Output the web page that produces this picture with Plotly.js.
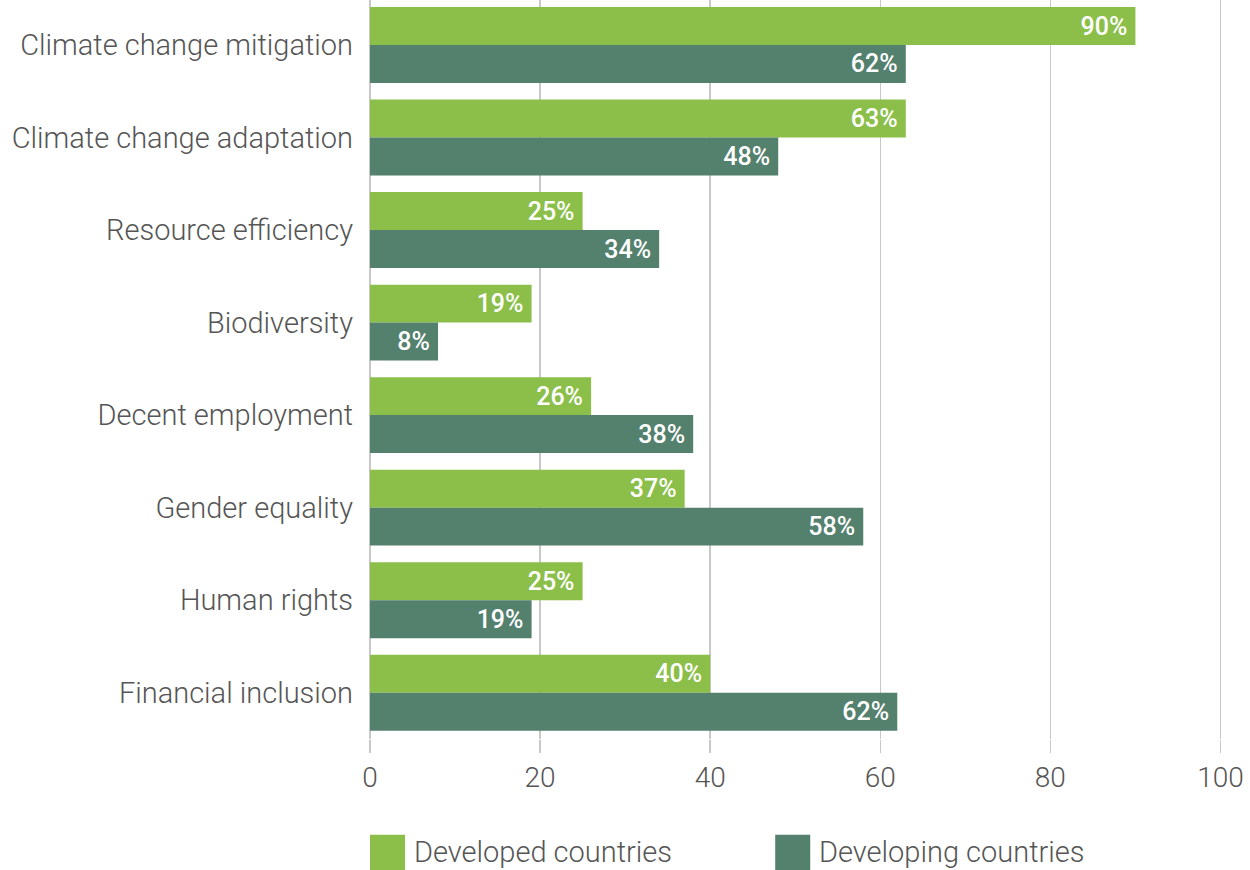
<!DOCTYPE html>
<html>
<head>
<meta charset="utf-8">
<script src="https://cdn.plot.ly/plotly-3.0.1.min.js"></script>
<style>
html,body{margin:0;padding:0;background:#fff;}
#chart{width:1250px;height:870px;}
</style>
</head>
<body>
<div id="chart"></div>
<script>
const categories = ["Climate change mitigation","Climate change adaptation","Resource efficiency","Biodiversity","Decent employment","Gender equality","Human rights","Financial inclusion"];
const seriesNames = ["Developed countries","Developing countries"];
const developed = [90,63,25,19,26,37,25,40];
const developing = [63,48,34,8,38,58,19,62];
const developedLabels = ["90%","63%","25%","19%","26%","37%","25%","40%"];
const developingLabels = ["62%","48%","34%","8%","38%","58%","19%","62%"];
const xTicks = [0,20,40,60,80,100];
const colors = ["#8bbf4a","#54806e"];

const FONT = "Roboto, 'Noto Sans', sans-serif";
const GRAY = "#555555";

function barTrace(name, vals, labels, color){
  return {
    type:"bar", orientation:"h", name:name,
    y:categories, x:vals,
    text:labels.map(t => t + "\u2009"),
    textposition:"inside", insidetextanchor:"end",
    textangle:0,
    textfont:{family:FONT, size:25, color:"#ffffff", weight:500},
    insidetextfont:{family:FONT, size:25, color:"#ffffff", weight:500},
    marker:{color:color, line:{width:0}},
    hoverinfo:"skip", cliponaxis:false
  };
}

const data = [
  barTrace(seriesNames[0], developed, developedLabels, colors[0]),
  barTrace(seriesNames[1], developing, developingLabels, colors[1])
];

const PW = 852.55, PH = 739.3;
const shapes = [];
const annotations = [];
const legendX = [370, 775];
seriesNames.forEach((n,i)=>{
  shapes.push({type:"rect", xref:"paper", yref:"paper",
    x0:(legendX[i]-370)/PW, x1:(legendX[i]+35-370)/PW,
    y0:(PH-835)/PH, y1:(PH-880)/PH,
    fillcolor:colors[i], line:{width:0}});
  annotations.push({xref:"paper", yref:"paper",
    x:(legendX[i]+42-370)/PW, y:(PH-852)/PH,
    xanchor:"left", yanchor:"middle", showarrow:false,
    text:n, font:{family:FONT, size:29, color:GRAY, weight:300}});
});

const layout = {
  width:1250, height:870,
  margin:{l:370, r:27.45, t:0, b:130.7, pad:0},
  paper_bgcolor:"#ffffff", plot_bgcolor:"#ffffff",
  barmode:"group", bargap:0.18, bargroupgap:0,
  showlegend:false,
  font:{family:FONT, color:GRAY},
  xaxis:{range:[0,100.3], tickvals:xTicks, ticktext:xTicks.map(String),
    showgrid:true, gridcolor:"#c8c8c8", gridwidth:1.5,
    zeroline:true, zerolinecolor:"#c8c8c8", zerolinewidth:1.5,
    showline:false, ticks:"outside", ticklen:13, tickwidth:1.5, tickcolor:"#c8c8c8",
    tickfont:{family:FONT, size:28, color:GRAY, weight:300}, fixedrange:true},
  yaxis:{type:"category", range:[7.5,-0.486], showgrid:false, zeroline:false,
    showline:false, ticks:"", ticklabelstandoff:16,
    tickfont:{family:FONT, size:29, color:GRAY, weight:300}, fixedrange:true},
  shapes:shapes, annotations:annotations
};

Plotly.newPlot("chart", data, layout, {displayModeBar:false, staticPlot:true});
</script>
</body>
</html>
